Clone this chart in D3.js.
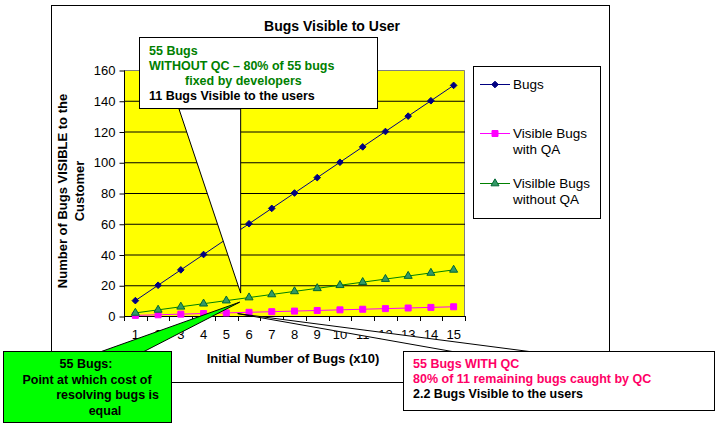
<!DOCTYPE html>
<html>
<head>
<meta charset="utf-8">
<script src="https://cdn.jsdelivr.net/npm/d3@7"></script>
<style>
  body { margin: 0; background: #fff; }
  svg { display: block; font-family: Arial, "Liberation Sans", sans-serif; }
</style>
</head>
<body>
<div id="graph"></div>
<script>
const categories = [1, 2, 3, 4, 5, 6, 7, 8, 9, 10, 11, 12, 13, 14, 15];
const bugs = [10, 20, 30, 40, 50, 60, 70, 80, 90, 100, 110, 120, 130, 140, 150];
const withQA = [0.4, 0.8, 1.2, 1.6, 2, 2.4, 2.8, 3.2, 3.6, 4, 4.4, 4.8, 5.2, 5.6, 6];
const withoutQA = [2, 4, 6, 8, 10, 12, 14, 16, 18, 20, 22, 24, 26, 28, 30];
const yTicks = [0, 20, 40, 60, 80, 100, 120, 140, 160];

const width = 719;
const height = 426;
const plot = { left: 124, right: 465, top: 70, bottom: 316 };

const svg = d3
  .select("#graph")
  .append("svg")
  .attr("width", width)
  .attr("height", height);

// Outer chart frame
svg.append("rect")
  .attr("x", 51.5).attr("y", 5.5)
  .attr("width", 558).attr("height", 377)
  .attr("fill", "#fff").attr("stroke", "#000").attr("stroke-width", 1);

svg.append("text")
  .attr("x", 332).attr("y", 31)
  .attr("text-anchor", "middle")
  .attr("font-size", 14).attr("font-weight", "bold")
  .text("Bugs Visible to User");

// Scales
const xScale = d3.scaleBand()
  .domain(categories)
  .range([plot.left, plot.right]);
const yScale = d3.scaleLinear()
  .domain([0, 160])
  .range([plot.bottom, plot.top]);
const cx = (d) => xScale(d) + xScale.bandwidth() / 2;

// Plot area
svg.append("rect")
  .attr("x", plot.left).attr("y", plot.top)
  .attr("width", plot.right - plot.left).attr("height", plot.bottom - plot.top)
  .attr("fill", "#ffff00");
svg.append("path")
  .attr("d", `M${plot.left},${plot.top + 0.5}H${plot.right - 0.5}V${plot.bottom}`)
  .attr("fill", "none").attr("stroke", "#808080");

// Gridlines
svg.append("g")
  .selectAll("line")
  .data(yTicks.filter((t) => t > 0 && t < 160))
  .enter()
  .append("line")
  .attr("x1", plot.left).attr("x2", plot.right)
  .attr("y1", (d) => yScale(d) + 0.5).attr("y2", (d) => yScale(d) + 0.5)
  .attr("stroke", "#000");

// Axes
const yAxis = d3.axisLeft(yScale).tickValues(yTicks).tickSize(5).tickPadding(4);
svg.append("g")
  .attr("transform", `translate(${plot.left + 0.5}, 0.5)`)
  .call(yAxis)
  .call((g) => g.select(".domain").attr("d", `M0,${plot.top}V${plot.bottom}`))
  .call((g) => g.selectAll("text").attr("font-size", 13).attr("fill", "#000").attr("font-family", null));

const xAxis = d3.axisBottom(xScale).tickSize(0).tickPadding(13);
svg.append("g")
  .attr("transform", `translate(0, ${plot.bottom + 0.5})`)
  .call(xAxis)
  .call((g) => g.select(".domain").attr("d", `M${plot.left},0H${plot.right}`))
  .call((g) => g.selectAll("text").attr("font-size", 13).attr("fill", "#000").attr("font-family", null));

// x ticks between categories
svg.append("g")
  .selectAll("line")
  .data(categories.concat([16]))
  .enter()
  .append("line")
  .attr("x1", (d, i) => Math.round(plot.left + i * xScale.step()) + 0.5)
  .attr("x2", (d, i) => Math.round(plot.left + i * xScale.step()) + 0.5)
  .attr("y1", plot.bottom).attr("y2", plot.bottom + 5)
  .attr("stroke", "#000");

// Axis titles
svg.append("text")
  .attr("transform", "translate(67, 191) rotate(-90)")
  .attr("text-anchor", "middle")
  .attr("font-size", 13).attr("font-weight", "bold")
  .text("Number of Bugs VISIBLE to the");
svg.append("text")
  .attr("transform", "translate(84, 191) rotate(-90)")
  .attr("text-anchor", "middle")
  .attr("font-size", 13).attr("font-weight", "bold")
  .text("Customer");
svg.append("text")
  .attr("x", 293).attr("y", 363)
  .attr("text-anchor", "middle")
  .attr("font-size", 13).attr("font-weight", "bold")
  .text("Initial Number of Bugs (x10)");

// Series
const series = [
  { name: ["Bugs"], values: bugs, color: "#000080", marker: d3.symbolDiamond2, size: 28, fill: "#000080", stroke: "#000080" },
  { name: ["Visible Bugs", "with QA"], values: withQA, color: "#ff00ff", marker: d3.symbolSquare, size: 36, fill: "#ff00ff", stroke: "#ff00ff" },
  { name: ["Visilble Bugs", "without QA"], values: withoutQA, color: "#008000", marker: d3.symbolTriangle, size: 28, fill: "#339966", stroke: "#006633" },
];

const line = d3.line()
  .x((d, i) => cx(categories[i]))
  .y((d) => yScale(d));

series.forEach((s) => {
  svg.append("path")
    .datum(s.values)
    .attr("d", line)
    .attr("fill", "none")
    .attr("stroke", s.color)
    .attr("stroke-width", 1);
  svg.append("g")
    .selectAll("path")
    .data(s.values)
    .enter()
    .append("path")
    .attr("transform", (d, i) => `translate(${cx(categories[i])}, ${yScale(d)})`)
    .attr("d", d3.symbol().type(s.marker).size(s.size))
    .attr("fill", s.fill)
    .attr("stroke", s.stroke);
});

// Legend
svg.append("rect")
  .attr("x", 473.5).attr("y", 66.5)
  .attr("width", 127).attr("height", 152)
  .attr("fill", "#fff").attr("stroke", "#000");
const legendY = [84, 133, 183];
series.forEach((s, i) => {
  const g = svg.append("g").attr("transform", `translate(0, ${legendY[i]})`);
  g.append("line")
    .attr("x1", 480).attr("x2", 510).attr("y1", 0.5).attr("y2", 0.5)
    .attr("stroke", s.color);
  g.append("path")
    .attr("transform", "translate(495, 0.5)")
    .attr("d", d3.symbol().type(s.marker).size(s.size))
    .attr("fill", s.fill).attr("stroke", s.stroke);
  s.name.forEach((t, j) => {
    g.append("text")
      .attr("x", 513).attr("y", 5 + j * 16)
      .attr("font-size", 13.5)
      .text(t);
  });
});

// Callout: without QC (points at 55 bugs, 11 visible)
const midX = (cx(5) + cx(6)) / 2;
svg.append("path")
  .attr("d", `M179,109L${midX + 3},109L${midX + 3},${yScale(11) - 6}Z`)
  .attr("fill", "#fff").attr("stroke", "#000");
svg.append("rect")
  .attr("x", 139.5).attr("y", 37.5).attr("width", 238).attr("height", 71)
  .attr("fill", "#fff").attr("stroke", "#000");
const topLines = [
  { t: "55 Bugs", x: 149, c: "#008000" },
  { t: "WITHOUT QC \u2013 80% of 55 bugs", x: 149, c: "#008000" },
  { t: "fixed by developers", x: 185, c: "#008000" },
  { t: "11 Bugs Visible to the users", x: 149, c: "#000" },
];
topLines.forEach((d, i) => {
  svg.append("text")
    .attr("x", d.x).attr("y", 55 + i * 15)
    .attr("font-size", 12.5).attr("font-weight", "bold")
    .attr("fill", d.c)
    .text(d.t);
});

// Callout: with QC (points at 55 bugs, 2.2 visible)
svg.append("path")
  .attr("d", `M${midX},${yScale(2.2) + 1}L455,352L533,352Z`)
  .attr("fill", "#fff").attr("stroke", "#000");
svg.append("rect")
  .attr("x", 403.5).attr("y", 351.5).attr("width", 311).attr("height", 59)
  .attr("fill", "#fff").attr("stroke", "#000");
const qcLines = [
  { t: "55 Bugs WITH QC", c: "#ff0066" },
  { t: "80% of 11 remaining bugs caught by QC", c: "#ff0066" },
  { t: "2.2 Bugs Visible to the users", c: "#000" },
];
qcLines.forEach((d, i) => {
  svg.append("text")
    .attr("x", 413).attr("y", 368 + i * 15)
    .attr("font-size", 12.5).attr("font-weight", "bold")
    .attr("fill", d.c)
    .text(d.t);
});

// Callout: equal cost point
svg.append("path")
  .attr("d", `M100,352L${midX + 2},${yScale(9)}L143,352Z`)
  .attr("fill", "#00ff00").attr("stroke", "#000");
svg.append("rect")
  .attr("x", 3.5).attr("y", 351.5).attr("width", 168).attr("height", 71)
  .attr("fill", "#00ff00").attr("stroke", "#000");
const eqLines = [
  { t: "55 Bugs:", x: 86, a: "middle" },
  { t: "Point at which cost of", x: 87, a: "middle" },
  { t: "resolving bugs is", x: 159, a: "end" },
  { t: "equal", x: 105, a: "middle" },
];
eqLines.forEach((d, i) => {
  svg.append("text")
    .attr("x", d.x).attr("y", 368 + i * 15.5)
    .attr("text-anchor", d.a)
    .attr("font-size", 12.5).attr("font-weight", "bold")
    .text(d.t);
});
</script>
</body>
</html>
